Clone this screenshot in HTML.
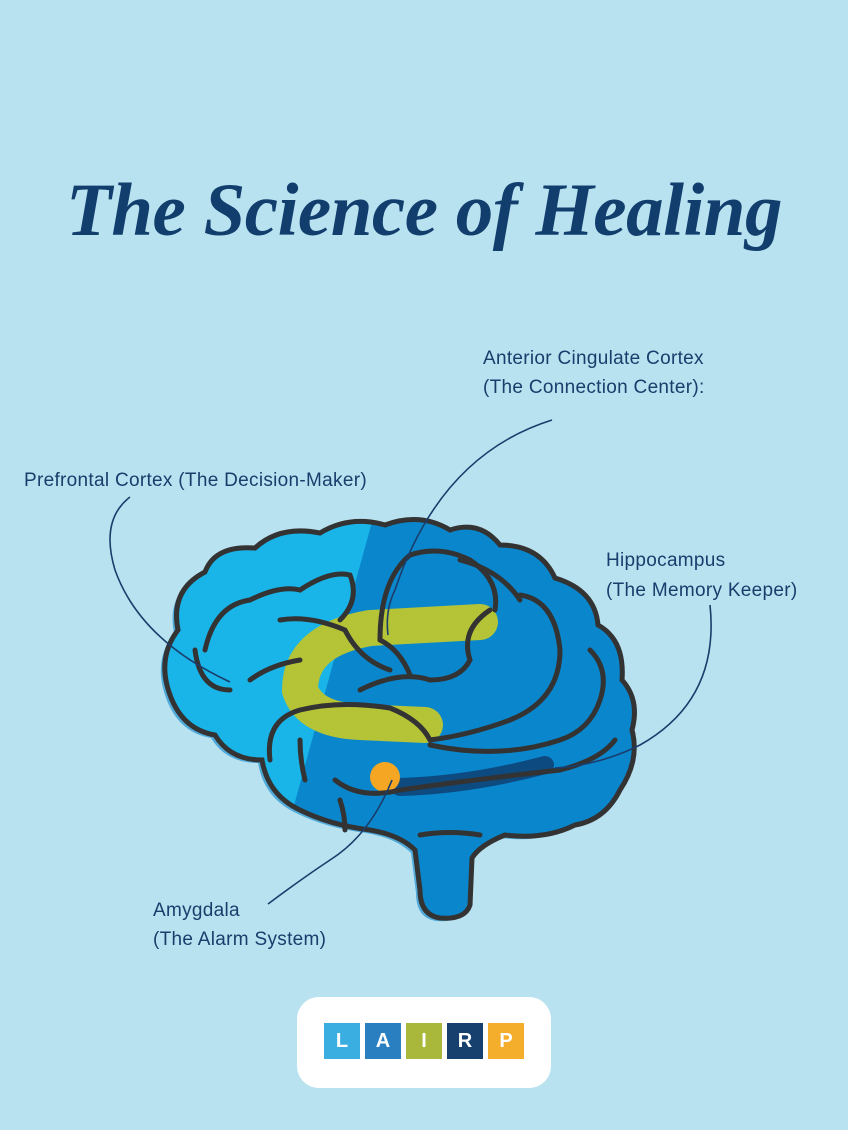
<!DOCTYPE html>
<html><head><meta charset="utf-8"><style>
html,body{margin:0;padding:0}
body{width:848px;height:1130px;background:#b9e2f0;position:relative;overflow:hidden;font-family:"Liberation Sans",sans-serif}
.t{position:absolute;color:#1a3d6b;font-size:19px;white-space:nowrap;letter-spacing:0.3px}
h1{position:absolute;left:0;width:848px;top:168px;margin:0;text-align:center;font-family:"Liberation Serif",serif;font-style:italic;font-weight:bold;font-size:75px;color:#123e6e;letter-spacing:-0.5px}
.logo{position:absolute;left:297px;top:997px;width:254px;height:91px;background:#fff;border-radius:22px}
.tile{position:absolute;top:26px;width:36px;height:36px;color:#fff;font-weight:bold;font-size:20px;text-align:center;line-height:36px}
</style></head><body>
<h1>The Science of Healing</h1>
<svg width="848" height="1130" style="position:absolute;left:0;top:0">
<defs>
<path id="br" d="M172,700 Q155,660 178,630 Q170,590 205,572 Q215,545 255,548 Q280,525 320,533 Q350,515 385,525 Q420,512 450,530 Q480,520 500,545 Q540,545 555,578 Q595,590 598,625 Q625,640 622,680 Q640,700 632,730 Q640,760 620,790 Q605,820 575,825 Q545,840 505,835 Q480,845 472,858 L470,905 Q465,920 440,918 Q420,915 420,890 L415,850 Q400,835 370,830 Q330,825 300,810 Q268,795 262,760 Q230,760 215,735 Q185,730 172,700 Z"/>
<clipPath id="cp"><use href="#br"/></clipPath>
</defs>
<use href="#br" fill="#0a86cc" transform="translate(-4,3)" opacity="0.6"/>
<use href="#br" fill="#0a86cc"/>
<g clip-path="url(#cp)"><polygon points="100,500 378,500 290,820 100,820" fill="#19b4e8"/></g>
<path d="M480,622 L370,628 Q300,640 300,690 Q310,720 360,722 L425,725" fill="none" stroke="#b5c436" stroke-width="36" stroke-linecap="round"/>
<path d="M400,787 Q470,785 545,765" fill="none" stroke="#0c4a80" stroke-width="18" stroke-linecap="round"/>
<circle cx="385" cy="777" r="15" fill="#f5a623"/>
<g fill="none" stroke="#333" stroke-width="5" stroke-linecap="round">
<use href="#br"/>
<path d="M205,650 Q215,605 250,600 Q280,585 300,590 Q330,570 350,575 Q360,600 340,620"/>
<path d="M230,690 Q200,690 195,650"/>
<path d="M250,680 Q270,665 300,660"/>
<path d="M280,620 Q310,615 345,630 Q360,660 390,670"/>
<path d="M270,760 Q265,720 300,710 Q340,700 390,708 Q420,720 430,740"/>
<path d="M430,740 Q470,735 510,720 Q560,700 560,650 Q555,600 520,595"/>
<path d="M360,690 Q400,670 430,680 Q460,680 470,660 Q460,630 490,610"/>
<path d="M380,640 Q380,580 410,555 Q440,545 470,560 Q500,580 495,610"/>
<path d="M380,640 Q400,650 410,675"/>
<path d="M430,745 Q500,760 560,740 Q590,730 600,700 Q610,670 590,650"/>
<path d="M335,780 Q360,800 400,790 Q470,780 560,770 Q600,760 615,740"/>
<path d="M340,800 Q345,815 345,830"/>
<path d="M300,740 Q300,760 305,780"/>
<path d="M520,600 Q500,570 460,560"/>
<path d="M420,835 Q450,830 480,835"/>
</g>
<g fill="none" stroke="#1a3d6b" stroke-width="1.6">
<path d="M130,497 Q100,520 115,570 Q140,640 230,682"/>
<path d="M552,420 Q440,455 395,590 Q385,610 388,635"/>
<path d="M710,605 Q720,700 640,745 Q600,765 555,768"/>
<path d="M268,904 Q300,880 330,860 Q370,835 392,780"/>
</g>
</svg>
<div class="t" style="left:483px;top:348px">Anterior Cingulate Cortex</div>
<div class="t" style="left:483px;top:377px">(The Connection Center):</div>
<div class="t" style="left:24px;top:470px">Prefrontal Cortex (The Decision-Maker)</div>
<div class="t" style="left:606px;top:550px">Hippocampus</div>
<div class="t" style="left:606px;top:580px">(The Memory Keeper)</div>
<div class="t" style="left:153px;top:900px">Amygdala</div>
<div class="t" style="left:153px;top:929px">(The Alarm System)</div>
<div class="logo">
<div class="tile" style="left:27px;background:#3aaee0">L</div>
<div class="tile" style="left:68px;background:#2a7fc0">A</div>
<div class="tile" style="left:109px;background:#a9b83a">I</div>
<div class="tile" style="left:150px;background:#17406e">R</div>
<div class="tile" style="left:191px;background:#f5ae2c">P</div>
</div>
</body></html>
